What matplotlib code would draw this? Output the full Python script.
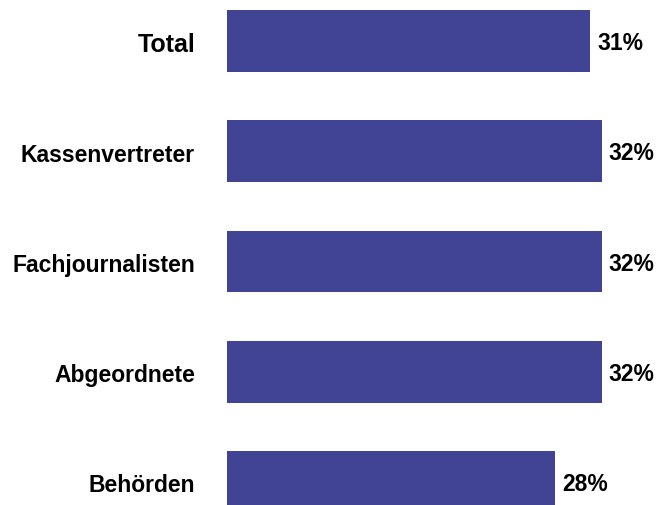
import matplotlib.pyplot as plt

categories = ["Total", "Kassenvertreter", "Fachjournalisten", "Abgeordnete", "Behörden"]
values = [31, 32, 32, 32, 28]
value_labels = ["31%", "32%", "32%", "32%", "28%"]

bar_color = "#414395"

plt.rcParams["font.family"] = ["Liberation Sans", "DejaVu Sans"]

fig = plt.figure(figsize=(6.57, 5.06), dpi=100)
ax = fig.add_axes([227 / 657, 0, 1 - 227 / 657, 1])

ypos = list(range(len(categories)))
ax.barh(ypos, values, height=0.562, color=bar_color)

ax.set_xlim(0, 430 / 11.71)
ax.set_ylim(464 / 110.25, -42 / 110.25)
ax.axis("off")

for y, v, lab, cat in zip(ypos, values, value_labels, categories):
    ax.text(v + 0.6, y + 0.015, lab, va="center", ha="left", fontsize=16.5,
            fontweight="bold", color="#000000")
    size = 18 if cat == "Total" else 16.5
    ax.text(-32 / 11.71, y + 0.025, cat, va="center", ha="right", fontsize=size,
            fontweight="bold", color="#000000")

fig.savefig("out.png", dpi=100)
